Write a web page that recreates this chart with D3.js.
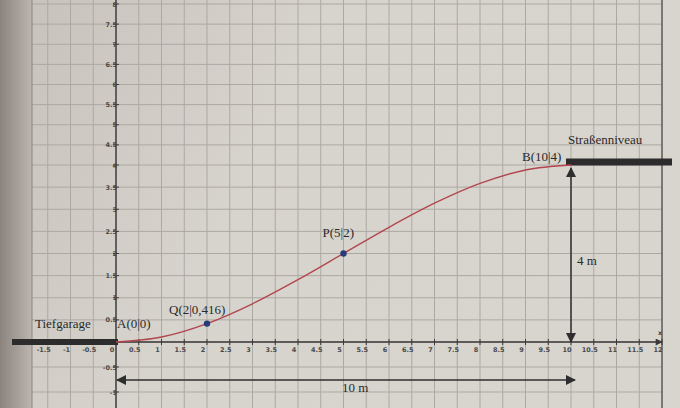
<!DOCTYPE html>
<html><head><meta charset="utf-8">
<script src="https://cdn.jsdelivr.net/npm/d3@7"></script>
<style>html,body{margin:0;padding:0;background:#d4d1ca;}svg{display:block;}</style>
</head><body>
<script>
// ---- data ----
const curveX = [0, 1, 2, 3, 4, 5, 6, 7, 8, 9, 10];
const curveY = [0, 0.112, 0.416, 0.864, 1.408, 2, 2.592, 3.136, 3.584, 3.888, 4];
const pointNames = ["Q(2|0,416)", "P(5|2)"];
const pointX = [2, 5];
const pointY = [0.416, 2];
const xTickValues = [-1.5,-1,-0.5,0,0.5,1,1.5,2,2.5,3,3.5,4,4.5,5,5.5,6,6.5,7,7.5,8,8.5,9,9.5,10,10.5,11,11.5,12];
const yTickValues = [-1,-0.5,0.5,1,1.5,2,2.5,3,3.5,4,4.5,5,5.5,6,6.5,7,7.5,8];
const labelA = "A(0|0)", labelB = "B(10|4)";
const labelLow = "Tiefgarage", labelHigh = "Straßenniveau";
const heightLabel = "4 m", widthLabel = "10 m";

const W = 680, H = 408;
const svg = d3.select("body").append("svg").attr("width", W).attr("height", H);
const x = d3.scaleLinear().domain([0, 10]).range([116, 571]);
const y = d3.scaleLinear().domain([-1, 0, 4, 8]).range([392, 342, 165, 4]);
const fmt = d => String(d);

const defs = svg.append("defs");
const g1 = defs.append("linearGradient").attr("id","paper").attr("x1",0).attr("y1",0).attr("x2",1).attr("y2",0.3);
g1.append("stop").attr("offset",0).attr("stop-color","#c6c1ba");
g1.append("stop").attr("offset",0.45).attr("stop-color","#d7d4cd");
g1.append("stop").attr("offset",1).attr("stop-color","#d8d5ce");
const g2 = defs.append("linearGradient").attr("id","shadow").attr("x1",0).attr("y1",0).attr("x2",1).attr("y2",0);
g2.append("stop").attr("offset",0).attr("stop-color","#8c837d");
g2.append("stop").attr("offset",1).attr("stop-color","#bcb6b0");
defs.append("marker").attr("id","ah").attr("viewBox","0 0 10 10").attr("refX",9).attr("refY",5)
  .attr("markerWidth",10).attr("markerHeight",10).attr("markerUnits","userSpaceOnUse").attr("orient","auto-start-reverse")
  .append("path").attr("d","M0,0 L10,5 L0,10 Z").attr("fill","#2e2e2e");
defs.append("marker").attr("id","ahs").attr("viewBox","0 0 10 10").attr("refX",9).attr("refY",5)
  .attr("markerWidth",8).attr("markerHeight",7).attr("markerUnits","userSpaceOnUse").attr("orient","auto")
  .append("path").attr("d","M0,0 L10,5 L0,10 Z").attr("fill","#3a3a3a");

svg.append("rect").attr("width",W).attr("height",H).attr("fill","url(#paper)");
svg.append("rect").attr("x",0).attr("y",0).attr("width",32).attr("height",H).attr("fill","url(#shadow)");

// grid
const gridLeft = 32, gridRight = x(12);
const grid = svg.append("g").attr("stroke","#aca8a2").attr("stroke-width",1);
grid.selectAll("line.v").data(d3.range(-2.5, 12.01, 0.5)).join("line")
  .attr("x1", d => x(d)).attr("x2", d => x(d)).attr("y1", 0).attr("y2", H)
  .attr("display", d => x(d) < gridLeft ? "none" : null);
grid.selectAll("line.h").data(d3.range(-1.5, 8.51, 0.5)).join("line")
  .attr("x1", gridLeft).attr("x2", gridRight).attr("y1", d => y(d)).attr("y2", d => y(d));
svg.append("line").attr("x1",gridLeft).attr("x2",gridLeft).attr("y1",0).attr("y2",H).attr("stroke","#8a8580");
svg.append("line").attr("x1",gridRight).attr("x2",gridRight).attr("y1",0).attr("y2",H).attr("stroke","#4a4846").attr("stroke-width",1.2);

// axes
const ax = svg.append("g").attr("stroke","#3a3a3a").attr("stroke-width",1.4);
ax.append("line").attr("x1",x(-2.2)).attr("x2",x(12)).attr("y1",y(0)).attr("y2",y(0)).attr("marker-end","url(#ahs)");
ax.append("line").attr("x1",x(0)).attr("x2",x(0)).attr("y1",H).attr("y2",0);
ax.selectAll("line.xt").data(xTickValues).join("line")
  .attr("x1", d => x(d)).attr("x2", d => x(d)).attr("y1", y(0)-3).attr("y2", y(0)+3).attr("stroke-width",1);
ax.selectAll("line.yt").data(yTickValues).join("line")
  .attr("x1", x(0)-3).attr("x2", x(0)+3).attr("y1", d => y(d)).attr("y2", d => y(d)).attr("stroke-width",1);

const tl = svg.append("g").attr("font-family","'DejaVu Sans', sans-serif").attr("font-size",6.5).attr("font-weight","bold").attr("fill","#4a4a4a");
tl.selectAll("text.x").data(xTickValues).join("text")
  .attr("x", d => x(d)-4).attr("y", y(0)+10).attr("text-anchor","middle").text(fmt);
tl.selectAll("text.y").data(yTickValues).join("text")
  .attr("x", x(0)+1).attr("y", d => y(d)+2.5).attr("text-anchor","end").text(fmt);
tl.append("text").attr("x", x(12)-2).attr("y", y(0)-7).attr("text-anchor","middle").text("x");

// levels
const bars = svg.append("g").attr("stroke","#2c2c2c");
bars.append("line").attr("x1",12).attr("x2",x(0)+2).attr("y1",y(0)).attr("y2",y(0)).attr("stroke-width",6);
bars.append("line").attr("x1",x(10)-5).attr("x2",672).attr("y1",y(4)-3).attr("y2",y(4)-3).attr("stroke-width",7);

// dimension arrows
svg.append("line").attr("x1",x(10)).attr("x2",x(10)).attr("y1",y(4)+3).attr("y2",y(0)).attr("stroke","#2e2e2e").attr("stroke-width",1.5)
  .attr("marker-start","url(#ah)").attr("marker-end","url(#ah)");
svg.append("line").attr("x1",x(0)+1).attr("x2",x(10)+4).attr("y1",380).attr("y2",380).attr("stroke","#2e2e2e").attr("stroke-width",1.5)
  .attr("marker-start","url(#ah)").attr("marker-end","url(#ah)");

// curve
const pts = curveX.map((d,i) => [d, curveY[i]]);
svg.append("path").datum(pts)
  .attr("d", d3.line().x(d => x(d[0])).y(d => y(d[1])).curve(d3.curveMonotoneX))
  .attr("fill","none").attr("stroke","#b24650").attr("stroke-width",1.4);
svg.selectAll("circle.pt").data(pointX).join("circle")
  .attr("cx", d => x(d)).attr("cy", (d,i) => y(pointY[i])).attr("r",3.2).attr("fill","#263c78");

// labels
const lab = svg.append("g").attr("font-family","'Liberation Serif', 'Times New Roman', serif").attr("font-size",13).attr("fill","#2a2a2a");
lab.append("text").attr("x", x(pointX[0])-38).attr("y", y(pointY[0])-10).text(pointNames[0]);
lab.append("text").attr("x", x(pointX[1])-21).attr("y", y(pointY[1])-17).text(pointNames[1]);
lab.append("text").attr("x", x(0)+1).attr("y", 328).text(labelA);
lab.append("text").attr("x", x(10)-49).attr("y", y(4)-4).text(labelB);
lab.append("text").attr("x", 35).attr("y", 328).text(labelLow);
lab.append("text").attr("x", 568).attr("y", 144).text(labelHigh);
lab.append("text").attr("x", 577).attr("y", 265).text(heightLabel);
lab.append("text").attr("x", 342).attr("y", 392).text(widthLabel);
</script>
</body></html>
